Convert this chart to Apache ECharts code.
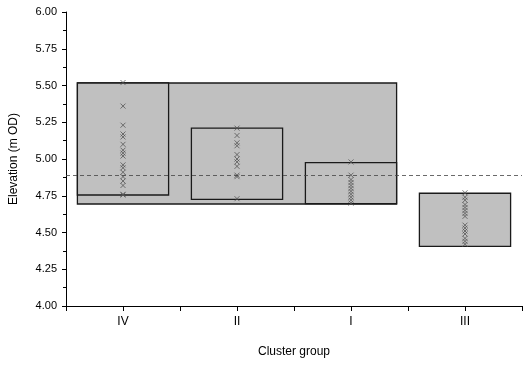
<!DOCTYPE html>
<html><head><meta charset="utf-8">
<script src="https://cdn.jsdelivr.net/npm/echarts@6/dist/echarts.min.js"></script>
<style>html,body{margin:0;padding:0;background:#fff}#c{width:530px;height:365px}</style>
</head><body><div id="c"></div>
<script>
const categories = ['IV', 'II', 'I', 'III'];
const boxLow  = [4.755, 4.726, 4.696, 4.405];
const boxHigh = [5.517, 5.210, 4.975, 4.767];
const rangeGroups = [0, 1, 2];        // groups covered by the large background rectangle
const rangeLow = 4.694;
const rangeHigh = 5.517;
const refLevel = 4.89;
const yTicks = [4.00, 4.25, 4.50, 4.75, 5.00, 5.25, 5.50, 5.75, 6.00];
const ptsIV  = [5.52, 5.36, 5.23, 5.17, 5.15, 5.10, 5.06, 5.04, 5.02, 4.96, 4.94, 4.91, 4.88, 4.85, 4.82, 4.76, 4.755];
const ptsII  = [5.21, 5.16, 5.11, 5.09, 5.03, 5.00, 4.98, 4.95, 4.89, 4.88, 4.73];
const ptsI   = [4.98, 4.89, 4.86, 4.84, 4.82, 4.80, 4.78, 4.76, 4.74, 4.72, 4.70];
const ptsIII = [4.77, 4.74, 4.72, 4.69, 4.67, 4.65, 4.63, 4.61, 4.55, 4.53, 4.51, 4.49, 4.46, 4.44, 4.42];
const allPts = [ptsIV, ptsII, ptsI, ptsIII];

const boxHalf = 0.4;
const pos = i => i + 0.5;

const scatterData = [];
allPts.forEach((arr, i) => arr.forEach(v => scatterData.push([pos(i), v])));

const chart = echarts.init(document.getElementById('c'), null, {renderer: 'canvas'});
const font = 'Liberation Sans, Arial, sans-serif';
chart.setOption({
  animation: false,
  grid: {left: 66, right: 8, top: 12, bottom: 59},
  xAxis: {
    type: 'value', min: 0, max: 4, interval: 0.5,
    name: 'Cluster group', nameLocation: 'middle', nameGap: 40,
    nameTextStyle: {color: '#000', fontSize: 12, fontFamily: font},
    axisLine: {lineStyle: {color: '#000', width: 1}},
    axisTick: {length: 5, lineStyle: {color: '#000'}},
    splitLine: {show: false},
    axisLabel: {
      color: '#000', fontSize: 12, fontFamily: font, margin: 10,
      formatter: v => { const i = Math.round(v - 0.5); return (Math.abs(v - 0.5 - i) < 1e-6 && categories[i]) ? categories[i] : ''; }
    }
  },
  yAxis: {
    type: 'value', min: 4, max: 6, interval: 0.25,
    name: 'Elevation (m OD)', nameLocation: 'middle', nameGap: 46,
    nameTextStyle: {color: '#000', fontSize: 12, fontFamily: font},
    axisLine: {show: true, lineStyle: {color: '#000', width: 1}},
    axisTick: {length: 4, lineStyle: {color: '#000'}},
    minorTick: {show: true, splitNumber: 2, length: 3, lineStyle: {color: '#000'}},
    splitLine: {show: false},
    axisLabel: {color: '#000', fontSize: 11, fontFamily: font, margin: 9, formatter: v => v.toFixed(2)}
  },
  series: [
    {
      type: 'custom', z: 1,
      data: [[pos(rangeGroups[0]) - boxHalf, pos(rangeGroups[rangeGroups.length - 1]) + boxHalf, rangeLow, rangeHigh]],
      renderItem: (params, api) => {
        const p1 = api.coord([api.value(0), api.value(3)]);
        const p2 = api.coord([api.value(1), api.value(2)]);
        return {type: 'rect', shape: {x: p1[0], y: p1[1], width: p2[0] - p1[0], height: p2[1] - p1[1]},
          style: {fill: '#c0c0c0', stroke: '#1a1a1a', lineWidth: 1.3}};
      }
    },
    {
      type: 'custom', z: 2,
      data: categories.map((c, i) => [pos(i), boxLow[i], boxHigh[i]]),
      renderItem: (params, api) => {
        const x = api.value(0);
        const p1 = api.coord([x - boxHalf, api.value(2)]);
        const p2 = api.coord([x + boxHalf, api.value(1)]);
        return {type: 'rect', shape: {x: p1[0], y: p1[1], width: p2[0] - p1[0], height: p2[1] - p1[1]},
          style: {fill: '#c0c0c0', stroke: '#1a1a1a', lineWidth: 1.3}};
      }
    },
    {
      type: 'line', z: 3, data: [], silent: true,
      markLine: {
        symbol: 'none', silent: true, label: {show: false},
        lineStyle: {color: '#444', type: [4, 3], width: 0.8},
        data: [{yAxis: refLevel}]
      }
    },
    {
      type: 'scatter', z: 4, data: scatterData, symbol: 'path://M0,0L10,10M0,10L10,0', symbolSize: 5,
      itemStyle: {color: 'none', borderColor: '#555', borderWidth: 1}
    }
  ]
});
</script></body></html>
